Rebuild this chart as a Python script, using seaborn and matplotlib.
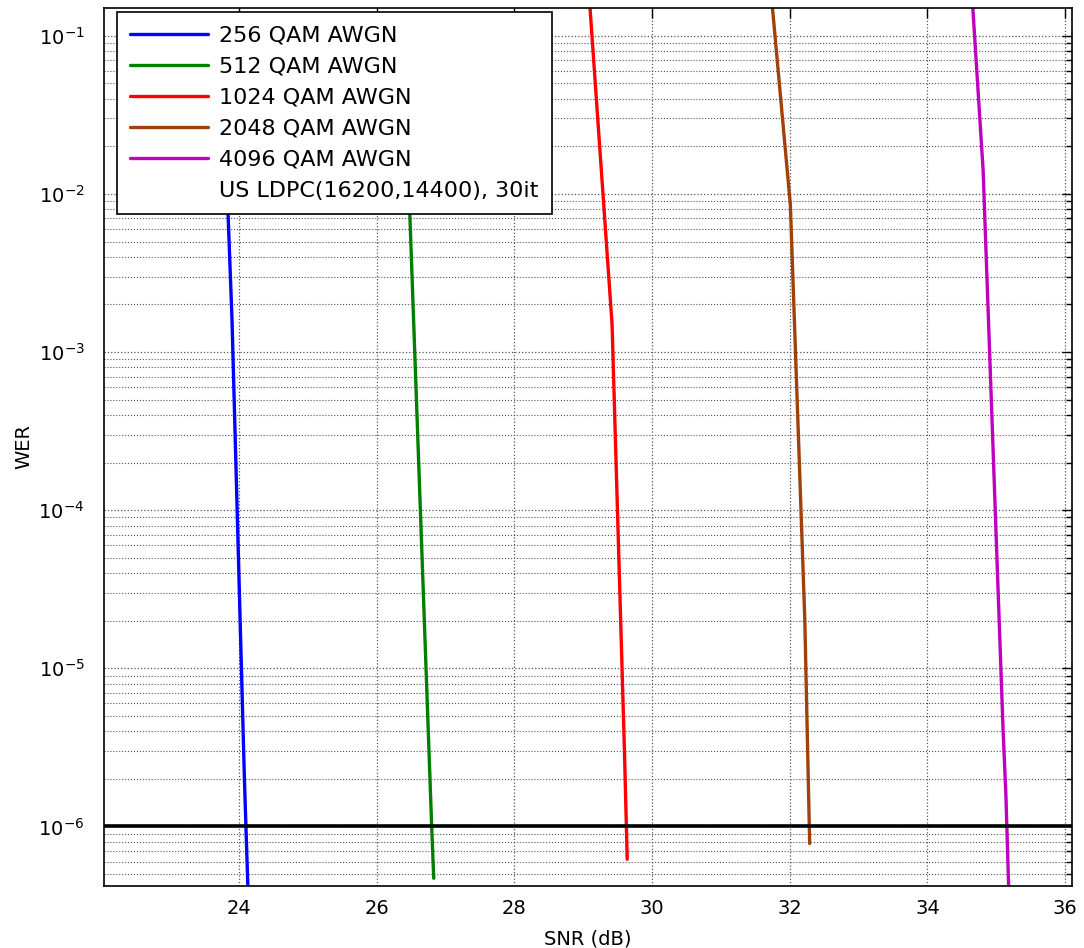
import numpy as np
import pandas as pd
import matplotlib
matplotlib.use("Agg")
import matplotlib.pyplot as plt
from matplotlib.lines import Line2D
from matplotlib.ticker import LogLocator, NullFormatter
import seaborn as sns

# ---- data ----
labels = ["256 QAM AWGN", "512 QAM AWGN", "1024 QAM AWGN", "2048 QAM AWGN", "4096 QAM AWGN"]
colors = ["#0000ff", "#008000", "#ff0000", "#a0400a", "#c000c0"]

snr_256 = [23.78, 23.84, 23.90, 24.08, 24.13]
wer_256 = [1e-1, 8e-3, 1.6e-3, 2e-6, 4.2e-7]

snr_512 = [26.40, 26.48, 26.80, 26.83]
wer_512 = [1e-1, 8e-3, 1e-6, 4.7e-7]

snr_1024 = [29.10, 29.42, 29.60, 29.64]
wer_1024 = [1.5e-1, 1.5e-3, 3e-6, 6.2e-7]

snr_2048 = [31.75, 32.01, 32.22, 32.29]
wer_2048 = [1.5e-1, 8.5e-3, 2e-5, 7.8e-7]

snr_4096 = [34.66, 34.81, 35.10, 35.14, 35.18]
wer_4096 = [1.5e-1, 1.4e-2, 4e-6, 1.6e-6, 4.2e-7]

target_wer = 1e-6
code_label = "US LDPC(16200,14400), 30it"

x_ticks = [24, 26, 28, 30, 32, 34, 36]

series = [(snr_256, wer_256), (snr_512, wer_512), (snr_1024, wer_1024),
          (snr_2048, wer_2048), (snr_4096, wer_4096)]
frames = []
for lab, (s, w) in zip(labels, series):
    frames.append(pd.DataFrame({"SNR": s, "WER": w, "curve": lab}))
df = pd.concat(frames, ignore_index=True)

# ---- style ----
sns.set_style("white")
plt.rcParams["font.family"] = ["DejaVu Sans"]
plt.rcParams["mathtext.fontset"] = "dejavusans"
plt.rcParams["text.color"] = "black"
plt.rcParams["axes.labelcolor"] = "black"

fig = plt.figure(figsize=(10.84, 9.48), dpi=100)
ax = fig.add_axes([0.0959, 0.0654, 0.893, 0.9262])

for lab, col in zip(labels, colors):
    sub = df[df["curve"] == lab]
    sns.lineplot(data=sub, x="SNR", y="WER", ax=ax, color=col, linewidth=2.4,
                 sort=False, estimator=None, label=lab, legend=False)

ax.axhline(target_wer, color="black", linewidth=2.6, zorder=5)

ax.set_yscale("log")
ax.set_xlim(22.04, 36.1)
ax.set_ylim(4.2e-7, 0.15)
ax.set_xticks(x_ticks)
ax.set_xticklabels([str(t) for t in x_ticks])
ax.yaxis.set_major_locator(LogLocator(base=10, numticks=20))
ax.yaxis.set_minor_locator(LogLocator(base=10, subs=np.arange(2, 10), numticks=20))
ax.yaxis.set_minor_formatter(NullFormatter())

ax.grid(True, which="major", axis="both", color="#555555", linestyle=":", linewidth=0.9)
ax.grid(True, which="minor", axis="y", color="#555555", linestyle=":", linewidth=0.8)

ax.tick_params(axis="both", which="both", direction="in", top=True, right=True,
               labelsize=14, colors="black")
ax.tick_params(axis="x", which="major", pad=9)
ax.tick_params(axis="y", which="major", pad=14)
ax.tick_params(axis="both", which="major", length=7, width=1)
ax.tick_params(axis="both", which="minor", length=4, width=1)
for sp in ax.spines.values():
    sp.set_color("black")
    sp.set_linewidth(1.2)

ax.set_xlabel("SNR (dB)", fontsize=14)
ax.set_ylabel("WER", fontsize=14)
ax.xaxis.set_label_coords(0.5, -0.049)
ax.yaxis.set_label_coords(-0.0733, 0.5)

handles = [Line2D([0], [0], color=c, lw=2.4) for c in colors]
handles.append(Line2D([0], [0], color="none", lw=0))
leg = ax.legend(handles, labels + [code_label], loc="upper left",
                bbox_to_anchor=(0.0134, 0.9954), fontsize=16, frameon=True,
                fancybox=False, edgecolor="black", framealpha=1,
                handlelength=3.5, handletextpad=0.5, labelspacing=0.5,
                borderpad=0.6, borderaxespad=0)
leg.get_frame().set_linewidth(1.2)
leg.set_zorder(10)
for t in leg.get_texts():
    t.set_color("black")

fig.savefig("out.png", dpi=100)
